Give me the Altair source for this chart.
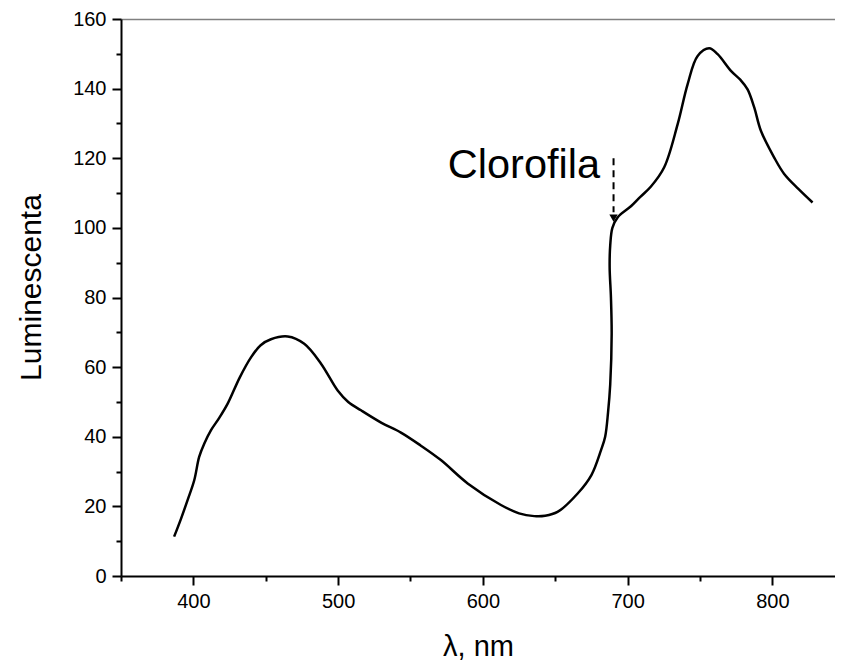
import altair as alt
import pandas as pd

# Spectrum
lam = [386.7, 391.5, 396.0, 400.6, 404.0, 407.5, 412.2, 418.0, 423.7, 432.0, 439.8,
       446.5, 453.6, 465.2, 476.6, 488.2, 499.7, 507.0, 515.8, 530.0, 543.4, 557.0,
       571.0, 589.5, 612.5, 625.0, 635.5, 643.0, 651.6, 665.5, 675.0, 681.6, 684.5,
       686.5, 688.0, 689.0, 688.5, 687.6, 688.0, 689.5, 693.1, 702.3, 709.0, 716.0,
       725.3, 734.6, 741.5, 748.4, 756.4, 762.2, 771.4, 778.0, 782.9, 787.5, 792.1,
       801.3, 808.2, 818.0, 827.8]
lum = [11.3, 16.5, 21.8, 27.5, 34.2, 38.0, 41.9, 45.5, 49.5, 57.0, 62.8,
       66.3, 68.0, 68.8, 66.7, 61.0, 53.3, 50.0, 47.6, 44.0, 41.2, 37.5,
       33.3, 26.6, 20.4, 18.0, 17.2, 17.3, 18.4, 23.7, 29.0, 36.1, 40.0,
       47.0, 55.0, 69.6, 80.0, 88.7, 95.0, 100.0, 103.0, 106.2, 109.0, 111.8,
       117.4, 129.8, 141.3, 149.4, 151.6, 149.9, 145.1, 142.5, 139.8, 134.6, 127.9,
       120.2, 115.5, 111.2, 107.3]

x_major = [400, 500, 600, 700, 800]
x_minor = [350, 450, 550, 650, 750]
y_major = [0, 20, 40, 60, 80, 100, 120, 140, 160]
y_minor = [10, 30, 50, 70, 90, 110, 130, 150]
x_domain = [350, 843.3]
y_domain = [0, 160]

# Annotation
note_text = ["Clorofila"]
note_lam = [681.0]
note_lum = [114.4]
arrow_lam = [690.3]
arrow_top = [120.0]
arrow_bottom = [104.5]
arrow_tip = [102.8]

FONT = "Liberation Sans"

df = pd.DataFrame({"lam": lam, "lum": lum, "i": list(range(len(lam)))})
xscale = alt.Scale(domain=x_domain, nice=False, zero=False)
yscale = alt.Scale(domain=y_domain, nice=False)

line = alt.Chart(df).mark_line(
    interpolate="catmull-rom", color="black", strokeWidth=2.5
).encode(
    x=alt.X("lam:Q", scale=xscale,
            axis=alt.Axis(values=x_major, title="λ, nm", tickSize=9, tickWidth=2,
                          domainWidth=2, domainColor="black", tickColor="black",
                          labelFontSize=20, titleFontSize=29, labelPadding=6,
                          titlePadding=21, titleFontWeight="normal", grid=False,
                          labelColor="black", titleColor="black", format="d")),
    y=alt.Y("lum:Q", scale=yscale,
            axis=alt.Axis(values=y_major, title="Luminescenta", tickSize=9, tickWidth=2,
                          domainWidth=2, domainColor="black", tickColor="black",
                          labelFontSize=20, titleFontSize=30, labelPadding=6,
                          titlePadding=26, titleY=268, titleFontWeight="normal", grid=False,
                          labelColor="black", titleColor="black", format="d")),
    order="i:Q",
)

minor = alt.Chart(df).mark_line(opacity=0).encode(
    x=alt.X("lam:Q", scale=xscale,
            axis=alt.Axis(values=x_minor, orient="bottom", labels=False, domain=False,
                          tickSize=5, tickWidth=2, tickColor="black", grid=False, title=None)),
    y=alt.Y("lum:Q", scale=yscale,
            axis=alt.Axis(values=y_minor, orient="left", labels=False, domain=False,
                          tickSize=5, tickWidth=2, tickColor="black", grid=False, title=None)),
    order="i:Q",
)

frame = alt.Chart(df).mark_line(opacity=0).encode(
    x=alt.X("lam:Q", scale=xscale,
            axis=alt.Axis(orient="top", labels=False, ticks=False, domain=True,
                          domainColor="#808080", domainWidth=1.5, grid=False, title=None)),
    y=alt.Y("lum:Q", scale=yscale, axis=None),
    order="i:Q",
)

arrow_df = pd.DataFrame({"lam": arrow_lam, "top": arrow_top, "bottom": arrow_bottom,
                         "tip": arrow_tip})
dash = alt.Chart(arrow_df).mark_rule(color="black", strokeWidth=2, strokeDash=[7, 5]).encode(
    x=alt.X("lam:Q", scale=xscale, axis=None),
    y=alt.Y("top:Q", scale=yscale, axis=None),
    y2="bottom:Q")
head = alt.Chart(arrow_df).mark_point(shape="triangle-down", filled=True, color="black",
                                      opacity=1, size=70).encode(
    x=alt.X("lam:Q", scale=xscale, axis=None),
    y=alt.Y("tip:Q", scale=yscale, axis=None))

note_df = pd.DataFrame({"t": note_text, "lam": note_lam, "lum": note_lum})
note = alt.Chart(note_df).mark_text(align="right", baseline="alphabetic", fontSize=41.5,
                                    font=FONT, color="black").encode(
    x=alt.X("lam:Q", scale=xscale, axis=None),
    y=alt.Y("lum:Q", scale=yscale, axis=None),
    text="t:N")

chart = alt.layer(line, minor, frame, dash, head, note).resolve_axis(
    x="independent", y="independent"
).properties(
    width=714, height=557,
    padding={"left": 113, "top": 11, "right": 0, "bottom": 86},
    autosize=alt.AutoSizeParams(type="none"),
).configure_view(
    stroke="transparent", strokeWidth=0
).configure_axis(
    labelFont=FONT, titleFont=FONT
).configure(background="white")

chart.save("out.html", embed_options={"renderer": "svg", "actions": False})
